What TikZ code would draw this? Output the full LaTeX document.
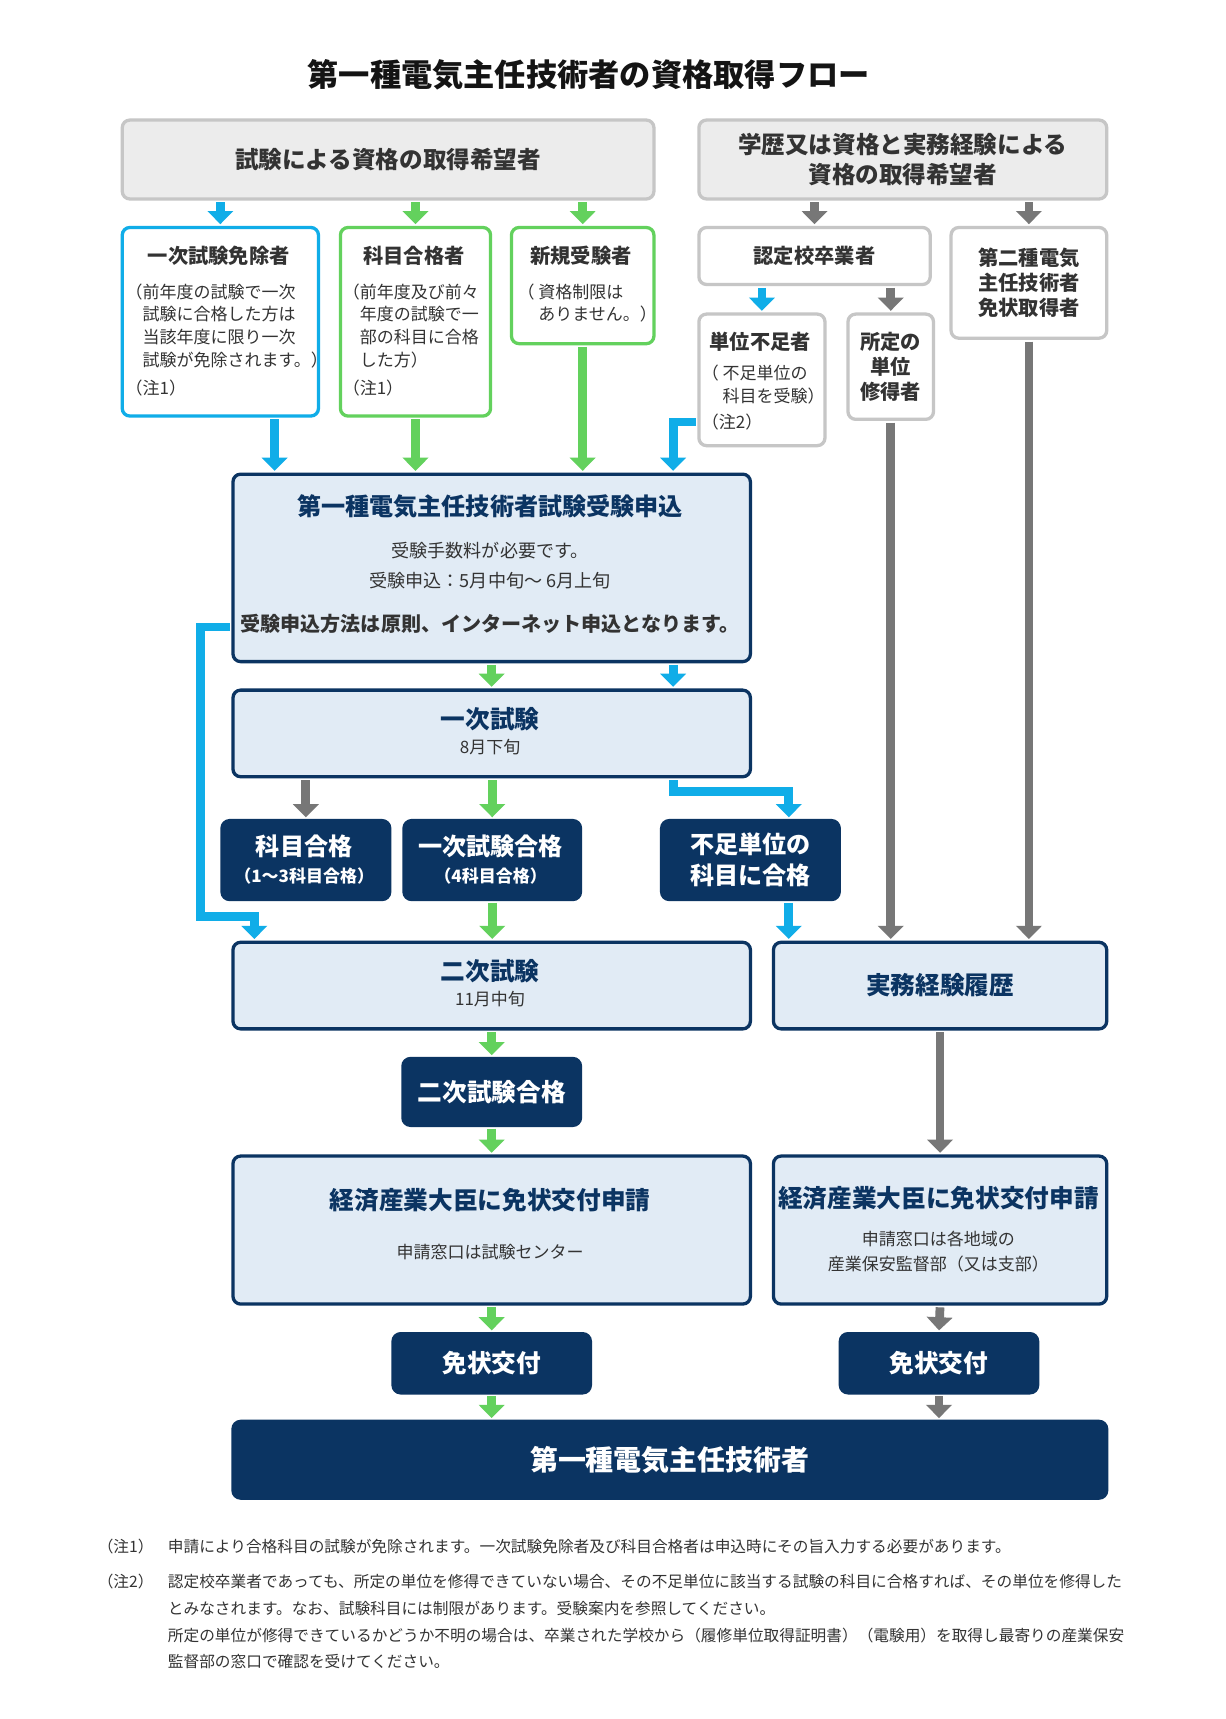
\documentclass[tikz,border=0pt]{standalone}
\usepackage{fontspec}
\setmainfont{Noto Sans CJK JP}
\usetikzlibrary{arrows.meta}
\definecolor{navy}{HTML}{0B3462}
\definecolor{lightfill}{HTML}{E1EBF5}
\definecolor{cblue}{HTML}{10ADE8}
\definecolor{cgreen}{HTML}{63D15D}
\definecolor{cgray}{HTML}{777777}
\definecolor{bgray}{HTML}{C6C6C6}
\definecolor{gfill}{HTML}{ECECEC}
\definecolor{tgray}{HTML}{333333}
\newcommand\fs[2]{\fontsize{#1pt}{#2pt}\selectfont}
\tikzset{
  box/.style={anchor=north west, inner sep=0pt, line width=3pt, rounded corners=7pt},
  graybox/.style={box, draw=bgray, fill=gfill, text=tgray, align=center, font=\fs{21.5}{28}\bfseries},
  wgraybox/.style={box, draw=bgray, fill=white, text=tgray, align=center, font=\fs{18.5}{23}\bfseries},
  bluebox/.style={box, draw=cblue, fill=white},
  greenbox/.style={box, draw=cgreen, fill=white},
  lightbox/.style={box, draw=navy, fill=lightfill, text=navy, font=\fs{22.5}{28}\bfseries},
  navybox/.style={box, draw=navy, fill=navy, text=white, align=center, font=\fs{22.5}{28}\bfseries},
  txt/.style={inner sep=0pt, text=tgray},
  ttl/.style={txt, font=\fs{18.5}{23}\bfseries},
  body/.style={txt, anchor=west, align=left, font=\fs{15.5}{20.7}},
  ntitle/.style={inner sep=0pt, text=navy, font=\fs{22.5}{28}\bfseries},
  wtitle/.style={inner sep=0pt, text=white, font=\fs{22}{28}\bfseries},
  wsub/.style={inner sep=0pt, text=white, font=\fs{15.5}{20}\bfseries},
  small/.style={txt, align=center, font=\fs{15.5}{23}},
  note/.style={txt, anchor=west, align=left, font=\fs{14.3}{24.3}},
  arr/.style={line width=8pt, line join=miter, shorten <=1.5pt, shorten >=1.5pt, -{Triangle[width=23pt,length=12pt]}},
  barr/.style={arr, draw=cblue},
  garr/.style={arr, draw=cgreen},
  karr/.style={arr, draw=cgray},
}
\begin{document}
\begin{tikzpicture}[x=1pt,y=-1pt]
\fill[white] (0,0) rectangle (1118,1568);
\useasboundingbox (0,0) rectangle (1118,1568);

\node[inner sep=0pt, font=\fs{28.5}{32}\bfseries, text=black!92] (title) at (537,68) {第一種電気主任技術者の資格取得フロー};

% top boxes
\node[graybox, minimum width=485pt, minimum height=72pt] (topL) at (110,108) {試験による資格の取得希望者};
\node[graybox, minimum width=372pt, minimum height=72pt] (topR) at (636,108) {学歴又は資格と実務経験による\\資格の取得希望者};

% row 2
\node[bluebox, minimum width=179pt, minimum height=172pt] (exempt) at (110,206) {};
\node[ttl] (exemptT) at (199.5,233) {一次試験免除者};
\node[body] (exemptB) at (114.5,297) {（前年度の試験で一次\\　試験に合格した方は\\　当該年度に限り一次\\　試験が免除されます。）};
\node[body] (exemptN) at (114.5,354) {（注1）};

\node[greenbox, minimum width=137pt, minimum height=172pt] (subj) at (309,206) {};
\node[ttl] (subjT) at (377.5,233) {科目合格者};
\node[body] (subjB) at (312.5,297) {（前年度及び前々\\　年度の試験で一\\　部の科目に合格\\　した方）};
\node[body] (subjN) at (312.5,354) {（注1）};

\node[greenbox, minimum width=130pt, minimum height=106pt] (new) at (465,206) {};
\node[ttl] (newT) at (530,233) {新規受験者};
\node[body] (newB) at (472,276.5) {（ 資格制限は\\　 ありません。）};

\node[wgraybox, minimum width=211pt, minimum height=52pt] (grad) at (636,206) {認定校卒業者};
\node[wgraybox, minimum width=142pt, minimum height=101pt] (second) at (866,206) {第二種電気\\主任技術者\\免状取得者};

\node[wgraybox, minimum width=115pt, minimum height=120pt] (short) at (636,285) {};
\node[ttl] (shortT) at (693.5,312) {単位不足者};
\node[body] (shortB) at (640,350.5) {（ 不足単位の\\　 科目を受験）};
\node[body] (shortN) at (640,385) {（注2）};

\node[wgraybox, minimum width=78pt, minimum height=96pt, font=\fs{18.5}{22.5}\bfseries] (credit) at (772,285) {所定の\\単位\\修得者};

% application
\node[lightbox, minimum width=472pt, minimum height=171pt] (apply) at (211,431) {};
\node[ntitle, font=\fs{22}{28}\bfseries] (applyT) at (447,462) {第一種電気主任技術者試験受験申込};
\node[small, font=\fs{16.5}{28}] (applyB) at (447,516) {受験手数料が必要です。\\受験申込：5月中旬～ 6月上旬};
\node[txt, font=\fs{18.3}{22}\bfseries] (applyM) at (447,569) {受験申込方法は原則、インターネット申込となります。};

% first exam
\node[lightbox, minimum width=472pt, minimum height=79pt] (first) at (211,628) {};
\node[ntitle] (firstT) at (447,656) {一次試験};
\node[small] (firstD) at (447,681) {8月下旬};

% navy results
\node[navybox, minimum width=153pt, minimum height=72pt] (kamoku) at (201,747) {};
\node[wtitle] (kamokuT) at (277.5,772) {科目合格};
\node[wsub] (kamokuS) at (277.5,799) {（1～3科目合格）};
\node[navybox, minimum width=161pt, minimum height=72pt] (pass1) at (367,747) {};
\node[wtitle] (pass1T) at (447.5,772) {一次試験合格};
\node[wsub] (pass1S) at (447.5,799) {（4科目合格）};
\node[navybox, minimum width=162pt, minimum height=72pt, font=\fs{22}{28}\bfseries] (fusoku) at (602,747) {不足単位の\\科目に合格};

% second exam / work
\node[lightbox, minimum width=472pt, minimum height=79pt] (sec) at (211,858) {};
\node[ntitle] (secT) at (447,886) {二次試験};
\node[small] (secD) at (447,911) {11月中旬};
\node[lightbox, minimum width=304pt, minimum height=79pt] (work) at (704,858) {実務経験履歴};

\node[navybox, minimum width=162pt, minimum height=61pt] (secpass) at (366,964) {二次試験合格};

% license application
\node[lightbox, minimum width=472pt, minimum height=135pt] (licL) at (211,1053) {};
\node[ntitle] (licLT) at (447,1095) {経済産業大臣に免状交付申請};
\node[small] (licLS) at (447,1142) {申請窓口は試験センター};
\node[lightbox, minimum width=304pt, minimum height=135pt] (licR) at (704,1053) {};
\node[ntitle] (licRT) at (856,1093) {経済産業大臣に免状交付申請};
\node[small] (licRS) at (856,1141.5) {申請窓口は各地域の\\産業保安監督部（又は支部）};

\node[navybox, minimum width=180pt, minimum height=54pt] (issueL) at (357,1215) {免状交付};
\node[navybox, minimum width=180pt, minimum height=54pt] (issueR) at (765,1215) {免状交付};
\node[navybox, minimum width=797pt, minimum height=70pt, font=\fs{25.5}{30}\bfseries] (final) at (211,1295) {第一種電気主任技術者};

% notes
\node[note] (n1l) at (89,1411) {（注1）};
\node[note] (n1) at (153,1411) {申請により合格科目の試験が免除されます。一次試験免除者及び科目合格者は申込時にその旨入力する必要があります。};
\node[note] (n2l) at (89,1443) {（注2）};
\node[note] (n2) at (153,1479.5) {認定校卒業者であっても、所定の単位を修得できていない場合、その不足単位に該当する試験の科目に合格すれば、その単位を修得した\\とみなされます。なお、試験科目には制限があります。受験案内を参照してください。\\所定の単位が修得できているかどうか不明の場合は、卒業された学校から（履修単位取得証明書）（電験用）を取得し最寄りの産業保安\\監督部の窓口で確認を受けてください。};

% arrows
\draw[barr] (topL.south -| exempt.north) -- (exempt.north);
\draw[garr] (topL.south -| subj.north) -- (subj.north);
\draw[garr] (topL.south -| new.north) -- (new.north);
\draw[karr] (topR.south -| grad.north) -- (grad.north);
\draw[karr] (topR.south -| second.north) -- (second.north);
\draw[barr] (grad.south -| short.north) -- (short.north);
\draw[karr] (grad.south -| credit.north) -- (credit.north);

\draw[barr] ([xshift=49.5pt]exempt.south) -- ([xshift=49.5pt]exempt.south |- apply.north);
\draw[garr] (subj.south) -- (subj.south |- apply.north);
\draw[garr] (new.south) -- (new.south |- apply.north);
\draw[barr] ([yshift=23pt]short.south west) -| ([xshift=403pt]apply.north west);

\draw[karr] (credit.south) -- (credit.south |- work.north);
\draw[karr] (second.south) -- (second.south |- work.north);

\draw[garr] (apply.south) -- (first.north);
\draw[barr] ([xshift=403pt]apply.south west) -- ([xshift=403pt]first.north west);
\draw[barr] ([yshift=33pt]apply.south west) -- ++(-28,0) |- ([xshift=21pt,yshift=22pt]sec.north west) -- ([xshift=21pt]sec.north west);

\draw[karr] (first.south -| kamoku.north) -- (kamoku.north);
\draw[garr] (first.south -| pass1.north) -- (pass1.north);
\draw[barr] ([xshift=403pt]first.south west) |- ([xshift=35pt,yshift=25pt]fusoku.north) -- ([xshift=35pt]fusoku.north);

\draw[garr] (pass1.south) -- (pass1.south |- sec.north);
\draw[barr] ([xshift=35pt]fusoku.south) -- ([xshift=35pt]fusoku.south |- work.north);
\draw[garr] (sec.south) -- (secpass.north);
\draw[garr] (secpass.south) -- (licL.north);
\draw[karr] (work.south) -- (licR.north);
\draw[garr] (licL.south) -- (issueL.north);
\draw[karr] (licR.south) -- (issueR.north);
\draw[garr] (issueL.south) -- (issueL.south |- final.north);
\draw[karr] (issueR.south) -- (issueR.south |- final.north);
\end{tikzpicture}
\end{document}
